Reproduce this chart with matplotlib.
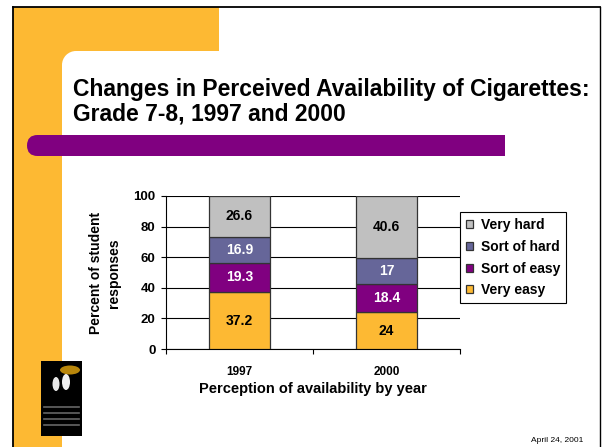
import matplotlib.pyplot as plt
from matplotlib.patches import Rectangle, FancyBboxPatch, Ellipse

plt.rcParams['font.family'] = ['Liberation Sans', 'DejaVu Sans']

# Chart data
years = ['1997', '2000']
very_easy = [37.2, 24]
sort_of_easy = [19.3, 18.4]
sort_of_hard = [16.9, 17]
very_hard = [26.6, 40.6]

series = [
    ('Very easy', very_easy, '#FDB933', 'black'),
    ('Sort of easy', sort_of_easy, '#800080', 'white'),
    ('Sort of hard', sort_of_hard, '#666699', 'white'),
    ('Very hard', very_hard, '#C0C0C0', 'black'),
]

W, H = 602, 447
fig = plt.figure(figsize=(W / 100, H / 100), dpi=100)

# slide background in pixel coordinates
bg = fig.add_axes([0, 0, 1, 1], zorder=0)
bg.set_xlim(0, W)
bg.set_ylim(H, 0)
bg.axis('off')

orange = '#FDB933'
purple = '#800080'
bg.add_patch(Rectangle((13, 7), 206, 44, color=orange, lw=0))
bg.add_patch(Rectangle((13, 7), 49, H, color=orange, lw=0))
# rounded inner corner of the white area
bg.add_patch(Rectangle((62, 51), 14, 14, color=orange, lw=0))
bg.add_patch(Ellipse((76, 65), 28, 28, color='white', lw=0))
bg.add_patch(FancyBboxPatch((27, 135), 40, 21,
                            boxstyle='round,pad=0,rounding_size=10.5',
                            fc=purple, ec='none'))
bg.add_patch(Rectangle((45, 135), 460, 21, color=purple, lw=0))
bg.plot([12.5, 600], [7, 7], color='black', lw=1.3)
bg.plot([12.5, 12.5], [7, H], color='black', lw=1.3)
bg.plot([600, 600], [7, H], color='black', lw=1.0)

# small logo block
bg.add_patch(Rectangle((41, 361), 41, 75, color='black', lw=0))
bg.add_patch(Ellipse((70, 370), 20, 9, color='#B8860B', lw=0))
bg.add_patch(Ellipse((56, 384), 7, 14, color='#E8E8E8', lw=0))
bg.add_patch(Ellipse((66, 382), 8, 16, color='#F0F0F0', lw=0))
for yy in [407, 413, 419, 425]:
    bg.plot([44, 79], [yy, yy], color='#666666', lw=1.2)

# title
bg.text(73, 101.5, 'Changes in Perceived Availability of Cigarettes:\nGrade 7-8, 1997 and 2000',
        fontsize=16.5, fontweight='bold', ha='left', va='center', linespacing=1.1)
bg.text(583, 440, 'April 24, 2001', fontsize=6, ha='right', va='center')

# chart
ax = fig.add_axes([166 / W, 1 - 349 / H, 294 / W, 153 / H], zorder=2)
ax.patch.set_alpha(0)
x = [0.5, 1.5]
bottom = [0, 0]
handles = []
for name, vals, col, tcol in series:
    bars = ax.bar(x, vals, width=0.41, bottom=bottom, color=col,
                  edgecolor='#333333', linewidth=0.9, label=name, zorder=3)
    handles.append(bars)
    for xi, b, v in zip(x, bottom, vals):
        ax.text(xi, b + v / 2, f'{v:g}', ha='center', va='center',
                fontsize=10, fontweight='bold', color=tcol, zorder=4)
    bottom = [b + v for b, v in zip(bottom, vals)]

ax.set_xlim(0, 2)
ax.set_ylim(0, 100)
ax.set_yticks([0, 20, 40, 60, 80, 100])
ax.set_xticks([0, 1, 2])
ax.set_xticklabels([])
ax.set_xticks(x, minor=True)
ax.set_xticklabels(years, minor=True)
ax.tick_params(axis='x', which='minor', length=0, pad=12, labelsize=8.5)
ax.tick_params(axis='x', which='major', length=3.5, direction='out')
ax.tick_params(axis='y', length=3.5, pad=4, labelsize=9.5)
for lab in ax.get_xticklabels(minor=True) + ax.get_yticklabels():
    lab.set_fontweight('bold')
ax.yaxis.grid(True, color='black', linewidth=0.8, zorder=0)
ax.set_axisbelow(True)
ax.spines['top'].set_visible(False)
ax.spines['right'].set_visible(False)

fig.text(105 / W, 1 - 273 / H, 'Percent of student\nresponses', rotation=90,
         ha='center', va='center', fontsize=10, fontweight='bold', linespacing=1.35)
fig.text(313 / W, 1 - 389 / H, 'Perception of availability by year',
         ha='center', va='center', fontsize=10.5, fontweight='bold')

leg = ax.legend(handles[::-1], [s[0] for s in series][::-1],
                loc='upper left', bbox_to_anchor=(460 / W, 1 - 212 / H),
                bbox_transform=fig.transFigure, borderaxespad=0,
                fancybox=False, edgecolor='black', framealpha=1,
                handlelength=0.5, handleheight=0.5, handletextpad=0.55,
                labelspacing=0.55, borderpad=0.45,
                prop={'size': 10, 'weight': 'bold'})
leg.get_frame().set_linewidth(0.8)

fig.savefig('out.png', dpi=100)
